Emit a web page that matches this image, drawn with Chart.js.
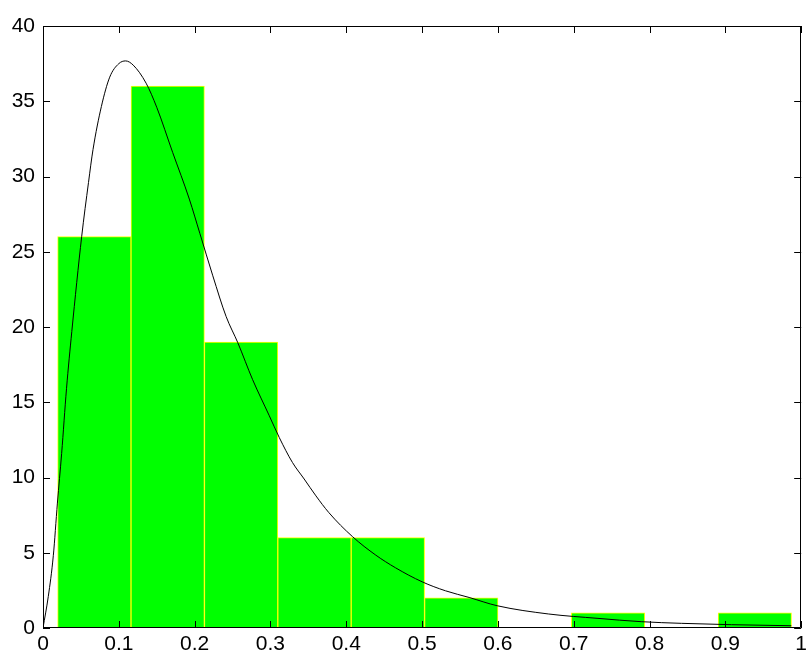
<!DOCTYPE html>
<html>
<head>
<meta charset="utf-8">
<script src="https://cdn.jsdelivr.net/npm/chart.js@4"></script>
<style>
  html, body { margin: 0; padding: 0; background: #fff; }
  #wrap { width: 811px; height: 657px; }
</style>
</head>
<body>
<div id="wrap"><canvas id="histChart" width="811" height="657"></canvas></div>
<script>
// histogram bins (centres) and counts
const binCenters = [0.0677, 0.1645, 0.2613, 0.3581, 0.4549, 0.5517, 0.6485, 0.7453, 0.8421, 0.9389];
const binCounts = [26, 36, 19, 6, 6, 2, 0, 1, 0, 1];

// fitted density curve
const curveX = [0, 0.007, 0.0136, 0.019, 0.0246, 0.031, 0.038, 0.051, 0.060, 0.066, 0.077, 0.088, 0.100, 0.109,
  0.119, 0.136, 0.150, 0.171, 0.193, 0.207, 0.224, 0.2415, 0.257, 0.2765, 0.2985, 0.3117, 0.329, 0.3445, 0.36,
  0.377, 0.408, 0.439, 0.465, 0.5, 0.531, 0.562, 0.599, 0.667, 0.732, 0.789, 0.842, 0.908, 0.987];
const curveY = [0, 2.1, 4.8, 8.3, 11.6, 15.9, 19.7, 26.0, 29.6, 31.8, 34.65, 36.6, 37.5, 37.68,
  37.4, 36.2, 34.6, 31.6, 28.5, 26.2, 23.4, 20.7, 18.95, 16.5, 14.1, 12.65, 11.0, 9.9, 8.78,
  7.67, 6.08, 4.84, 4.0, 3.07, 2.47, 2.03, 1.48, 0.93, 0.64, 0.42, 0.31, 0.22, 0.15];

// tick labels
const xTickLabels = ['0', '0.1', '0.2', '0.3', '0.4', '0.5', '0.6', '0.7', '0.8', '0.9', '1'];
const yTickLabels = ['0', '5', '10', '15', '20', '25', '30', '35', '40'];

const FONT = { family: '"Liberation Sans", Arial, sans-serif', size: 21 };

// matlab style box with inward ticks on all four sides
const boxAxes = {
  id: 'boxAxes',
  afterDatasetsDraw(chart) {
    const { ctx, chartArea: a, scales } = chart;
    const len = 7;
    ctx.save();
    ctx.strokeStyle = '#000';
    ctx.lineWidth = 1;
    ctx.beginPath();
    ctx.rect(Math.round(a.left) + 0.5, Math.round(a.top) + 0.5,
      Math.round(a.right - a.left) - 1, Math.round(a.bottom - a.top) - 1);
    scales.x.ticks.forEach(t => {
      const px = Math.round(scales.x.getPixelForValue(t.value)) + 0.5;
      ctx.moveTo(px, a.bottom); ctx.lineTo(px, a.bottom - len);
      ctx.moveTo(px, a.top); ctx.lineTo(px, a.top + len);
    });
    scales.y.ticks.forEach(t => {
      const py = Math.round(scales.y.getPixelForValue(t.value)) + 0.5;
      ctx.moveTo(a.left, py); ctx.lineTo(a.left + len, py);
      ctx.moveTo(a.right, py); ctx.lineTo(a.right - len, py);
    });
    ctx.stroke();
    ctx.restore();
  }
};

function initChart() {
  const canvas = document.getElementById('histChart');
  new Chart(canvas, {
    data: {
      datasets: [
        {
          type: 'line',
          data: curveX.map((x, i) => ({ x, y: curveY[i] })),
          borderColor: '#000',
          borderWidth: 1,
          pointRadius: 0,
          cubicInterpolationMode: 'monotone',
          order: 0
        },
        {
          type: 'bar',
          data: binCenters.map((x, i) => ({ x, y: binCounts[i] })),
          backgroundColor: '#00ff00',
          borderColor: '#ffff00',
          borderWidth: 1,
          borderSkipped: false,
          barPercentage: 1,
          categoryPercentage: 1,
          order: 1
        }
      ]
    },
    options: {
      responsive: false,
      animation: false,
      layout: { padding: { top: 26, right: 6, left: 0, bottom: 0 } },
      plugins: { legend: { display: false }, tooltip: { enabled: false } },
      scales: {
        x: {
          type: 'linear',
          offset: false,
          min: 0, max: 1,
          grid: { display: false, drawTicks: false, offset: false },
          border: { display: false },
          ticks: {
            stepSize: 0.1,
            color: '#000',
            font: FONT,
            padding: 4,
            maxRotation: 0,
            autoSkip: false,
            callback: (v, i) => xTickLabels[i]
          },
          afterFit: s => { s.height = 29; }
        },
        y: {
          min: 0, max: 40,
          grid: { display: false, drawTicks: false },
          border: { display: false },
          ticks: {
            stepSize: 5,
            color: '#000',
            font: FONT,
            padding: 8,
            callback: (v, i) => yTickLabels[i]
          },
          afterFit: s => { s.width = 43; }
        }
      }
    },
    plugins: [boxAxes]
  });
}

document.addEventListener('DOMContentLoaded', initChart);
</script>
</body>
</html>
